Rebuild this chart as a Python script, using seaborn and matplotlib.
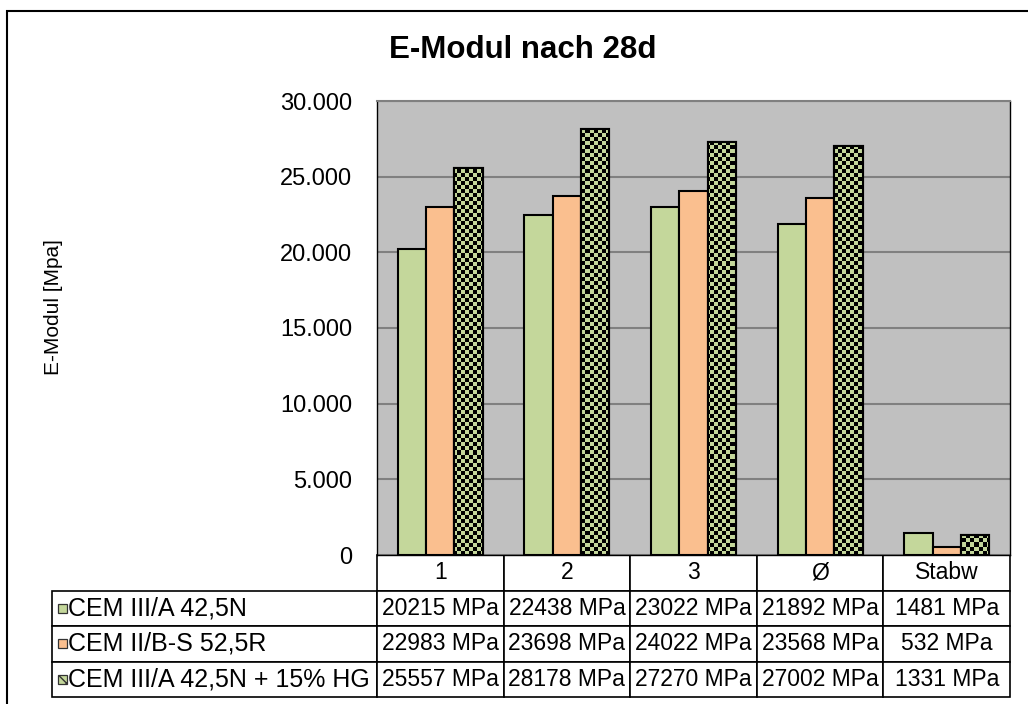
import numpy as np
import pandas as pd
import matplotlib
matplotlib.use('Agg')
import matplotlib.pyplot as plt
from matplotlib.table import Table
from matplotlib.patches import Rectangle
from matplotlib.colors import ListedColormap
from matplotlib.ticker import FuncFormatter
import seaborn as sns

# Daten
kategorien = ['1', '2', '3', 'Ø', 'Stabw']
serien = ['CEM III/A 42,5N', 'CEM II/B-S 52,5R', 'CEM III/A 42,5N + 15% HG']
cem3 = [20215, 22438, 23022, 21892, 1481]
cem2 = [22983, 23698, 24022, 23568, 532]
cem3_hg = [25557, 28178, 27270, 27002, 1331]
yticks = [0, 5000, 10000, 15000, 20000, 25000, 30000]

gruen = '#C4D79B'
orange = '#FABF8F'

df = pd.DataFrame({'Kategorie': kategorien * 3,
                   'Serie': np.repeat(serien, len(kategorien)),
                   'E': cem3 + cem2 + cem3_hg})

sns.set_style('white')
plt.rcParams['font.family'] = ['Liberation Sans', 'DejaVu Sans']
for k in ['text.color', 'axes.labelcolor', 'xtick.color', 'ytick.color']:
    plt.rcParams[k] = 'black'

W, H = 1028, 704
fig = plt.figure(figsize=(W / 100, H / 100), dpi=100)
ax = fig.add_axes([377 / W, 1 - 555 / H, 633 / W, 454 / H])
ax.set_facecolor('#C0C0C0')

sns.barplot(data=df, x='Kategorie', y='E', hue='Serie',
            palette=[gruen, orange, gruen], saturation=1, width=0.67,
            edgecolor='black', linewidth=1.5, legend=False, ax=ax)
ax.set_xlim(-0.5, 4.5)
ax.set_ylim(0, 30000)

# Schachbrettmuster fuer die dritte Serie
xl, yl = ax.get_xlim(), ax.get_ylim()
iy, ix = np.indices((454 // 4, 633 // 4))
checker = (iy + ix) % 2
for bar in ax.containers[2]:
    z = bar.get_zorder()
    im = ax.imshow(checker, extent=(*xl, *yl), origin='lower', aspect='auto',
                   interpolation='nearest',
                   cmap=ListedColormap([gruen, 'black']), zorder=z + 0.1)
    im.set_clip_path(bar)
    ax.add_patch(Rectangle(bar.get_xy(), bar.get_width(), bar.get_height(),
                           fill=False, ec='black', lw=1.5, zorder=z + 0.2))
ax.set_xlim(xl)
ax.set_ylim(yl)

ax.set_yticks(yticks)
ax.yaxis.set_major_formatter(FuncFormatter(lambda v, p: f'{v:,.0f}'.replace(',', '.')))
ax.tick_params(axis='y', length=0, pad=18, labelsize=17)
ax.set_xticks([])
ax.set_xlabel('')
ax.yaxis.grid(True, color='#808080', lw=1.5)
ax.set_axisbelow(True)
for s in ax.spines.values():
    s.set_color('black')
    s.set_linewidth(1)
ax.spines['top'].set_color('#808080')
ax.spines['top'].set_linewidth(1.5)

ax.set_ylabel('E-Modul [Mpa]', fontsize=15)
ax.yaxis.set_label_coords((63 - 377) / 633, (555 - 307) / 454)

# Datentabelle (bbox gilt nur fuer die Datenspalten, Zeilenbeschriftung links davon)
tab_h = 142 / 454
lab_w = 325 / 633
tab = Table(ax, bbox=[0, -tab_h, 1, tab_h])
rh = 1 / 4
cw = 1 / len(kategorien)
for j, k in enumerate(kategorien):
    tab.add_cell(0, j, width=cw, height=rh, text=k, loc='center')
for i, (name, werte) in enumerate(zip(serien, [cem3, cem2, cem3_hg]), start=1):
    c = tab.add_cell(i, -1, width=lab_w, height=rh, text=name, loc='left')
    c.PAD = 0.05
    for j, v in enumerate(werte):
        tab.add_cell(i, j, width=cw, height=rh, text=f'{v} MPa', loc='center')
tab.auto_set_font_size(False)
tab.set_fontsize(16.5)
for (r, col), c in tab.get_celld().items():
    c.set_edgecolor('black')
    c.set_linewidth(1.2)
    if col == -1:
        c.set_fontsize(18)
ax.add_table(tab)

# Legendensymbole in der Tabelle
mk_w, mk_h = 9 / 633, 9 / 454
for i, fc in enumerate([gruen, orange, gruen], start=1):
    yc = -tab_h * (i + 0.5) / 4
    r = Rectangle(((58 - 377) / 633, yc - mk_h / 2), mk_w, mk_h,
                  transform=ax.transAxes, clip_on=False, fc=fc, ec='#333333',
                  lw=0.9, hatch='xx' if i == 3 else None)
    ax.add_patch(r)

fig.text(523 / W, 1 - 50 / H, 'E-Modul nach 28d', ha='center', va='center',
         fontsize=22.5, fontweight='bold')

fig.add_artist(Rectangle((7 / W, -0.05), 1.1, 1 - 11 / H + 0.05,
                         transform=fig.transFigure, fill=False, ec='black', lw=1.5))

fig.savefig('out.png', dpi=100)
